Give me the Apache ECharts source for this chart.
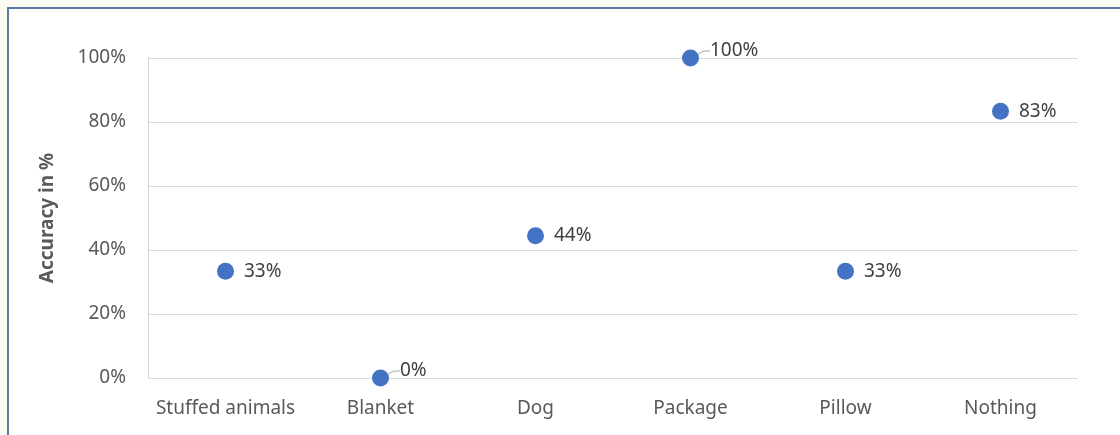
<!DOCTYPE html>
<html>
<head>
<meta charset="utf-8">
<script src="https://cdn.jsdelivr.net/npm/echarts@6/dist/echarts.min.js"></script>
<style>
  html, body { margin: 0; padding: 0; background: #fdfcf3; }
  #frame { position: absolute; left: 7px; top: 7px; width: 1113px; height: 428px;
           background: #fff; border-left: 2px solid #5a7aa6; border-top: 2px solid #5a7aa6; box-sizing: border-box; }
  #chart { position: absolute; left: 0; top: 0; width: 1120px; height: 435px; }
</style>
</head>
<body>
<div id="frame"></div>
<div id="chart"></div>
<script>
// 数据
var categories = ['Stuffed animals', 'Blanket', 'Dog', 'Package', 'Pillow', 'Nothing'];
var accuracy = [33.33, 0, 44.44, 100, 33.33, 83.33];
var yTicks = [0, 20, 40, 60, 80, 100];

var chart = echarts.init(document.getElementById('chart'));

var fontFam = 'Noto Sans';
var grey = '#595959';

// 0% 和 100% 的标签往右上挪，带引线
var points = accuracy.map(function (v, i) {
  var item = { value: [i, v] };
  if (v === 0 || v === 100) {
    item.labelLine = { show: true };
  }
  return item;
});

var option = {
  animation: false,
  grid: { left: 148, right: 42, top: 58, bottom: 57 },
  xAxis: {
    type: 'category',
    data: categories,
    boundaryGap: true,
    axisLine: { show: false },
    axisTick: { show: false },
    axisLabel: { color: grey, fontSize: 19, fontFamily: fontFam, margin: 21, interval: 0 },
    splitLine: { show: false }
  },
  yAxis: {
    type: 'value',
    min: yTicks[0],
    max: yTicks[yTicks.length - 1],
    interval: 20,
    name: 'Accuracy in %',
    nameLocation: 'middle',
    nameGap: 91,
    nameRotate: 90,
    nameTextStyle: { color: grey, fontSize: 19, fontWeight: 'bold', fontFamily: fontFam },
    axisLine: { show: true, lineStyle: { color: '#c9d3e0', width: 1 } },
    axisTick: { show: false },
    axisLabel: { color: grey, fontSize: 19, fontFamily: fontFam, margin: 22, formatter: '{value}%' },
    splitLine: { lineStyle: { color: '#d9d9d9', width: 1 } }
  },
  series: [{
    type: 'scatter',
    symbolSize: 17,
    itemStyle: { color: '#4472c4', opacity: 1 },
    data: points,
    label: {
      show: true,
      position: 'right',
      distance: 10,
      color: '#404040',
      fontSize: 19,
      fontFamily: fontFam,
      formatter: function (p) { return Math.round(p.value[1]) + '%'; }
    },
    labelLayout: function (params) {
      var v = accuracy[params.dataIndex];
      if (v === 0 || v === 100) {
        return { dx: 1, dy: -7 };
      }
      return {};
    },
    labelLine: { show: false, length2: 6, lineStyle: { color: '#a6a6a6', width: 1 } }
  }]
};

chart.setOption(option);
</script>
</body>
</html>
